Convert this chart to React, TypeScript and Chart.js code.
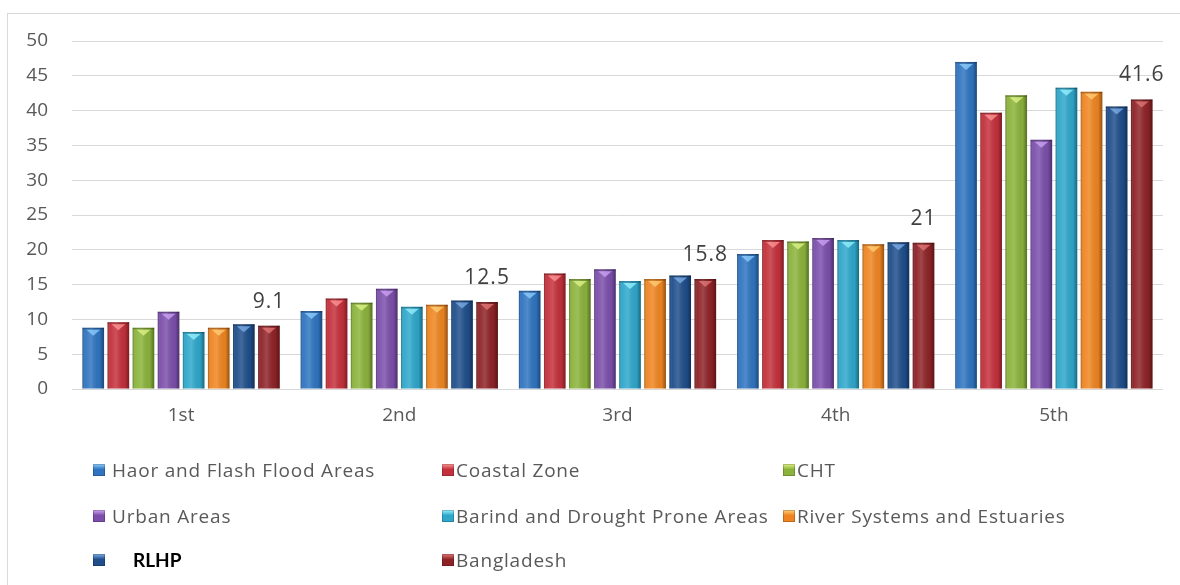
import React, { useEffect, useRef } from 'react';
import { Chart, registerables } from 'chart.js';

Chart.register(...registerables);

// Quintile groups along the x axis
const categories = ['1st', '2nd', '3rd', '4th', '5th'];

// Share per quintile for each area
const haorFlashFlood = [8.8, 11.2, 14.1, 19.4, 47.0];
const coastalZone = [9.6, 13.0, 16.6, 21.4, 39.7];
const cht = [8.8, 12.4, 15.8, 21.2, 42.2];
const urbanAreas = [11.1, 14.4, 17.2, 21.7, 35.8];
const barindDrought = [8.2, 11.8, 15.5, 21.4, 43.3];
const riverSystems = [8.8, 12.1, 15.8, 20.8, 42.7];
const rlhp = [9.3, 12.7, 16.3, 21.1, 40.6];
const bangladesh = [9.1, 12.5, 15.8, 21, 41.6];

const yTicks = [0, 5, 10, 15, 20, 25, 30, 35, 40, 45, 50];

const seriesNames = [
  'Haor and Flash Flood Areas',
  'Coastal Zone',
  'CHT',
  'Urban Areas',
  'Barind and Drought Prone Areas',
  'River Systems and Estuaries',
  'RLHP',
  'Bangladesh',
];
const seriesValues = [haorFlashFlood, coastalZone, cht, urbanAreas, barindDrought, riverSystems, rlhp, bangladesh];

const seriesColors = ['#2f74c0', '#c4303b', '#8bb33b', '#7b4fab', '#2ea7cb', '#ef8521', '#1f4e8b', '#8e2327'];
const seriesTips = ['#8fd0ff', '#ff9a9a', '#e2f58a', '#cfa6f5', '#9af3ff', '#ffd27a', '#7fb0ea', '#e67878'];

// index of the series whose values are printed above the bars
const labelledSeries = 7;

// legend grid: [series index, box left, text left, row centre y]
const legendCells: [number, number, number, number][] = [
  [0, 93, 112, 470],
  [1, 442, 456, 470],
  [2, 783, 797, 470],
  [3, 93, 112, 516],
  [4, 442, 456, 516],
  [5, 783, 797, 516],
  [6, 93, 133, 560],
  [7, 442, 456, 560],
];

const FONT = '"Open Sans", "DejaVu Sans", sans-serif';

// Gives each bar a rounded, glossy look with a small bevel at the top
const bevelPlugin = {
  id: 'bevel',
  afterDatasetsDraw(chart: any) {
    const ctx = chart.ctx as CanvasRenderingContext2D;
    chart.data.datasets.forEach((_ds: any, i: number) => {
      const meta = chart.getDatasetMeta(i);
      meta.data.forEach((el: any) => {
        const { x, y, base, width } = el.getProps(['x', 'y', 'base', 'width'], true);
        const l = x - width / 2;
        const r = x + width / 2;
        ctx.save();
        const g = ctx.createLinearGradient(l, 0, r, 0);
        g.addColorStop(0, 'rgba(0,0,0,0.34)');
        g.addColorStop(0.12, 'rgba(255,255,255,0.04)');
        g.addColorStop(0.4, 'rgba(255,255,255,0.16)');
        g.addColorStop(0.8, 'rgba(0,0,0,0.04)');
        g.addColorStop(1, 'rgba(0,0,0,0.38)');
        ctx.fillStyle = g;
        ctx.fillRect(l, y, width, base - y);
        ctx.fillStyle = 'rgba(0,0,0,0.25)';
        ctx.fillRect(l, y, width, 1.5);
        ctx.globalAlpha = 0.75;
        ctx.fillStyle = seriesTips[i];
        ctx.beginPath();
        ctx.moveTo(l + width * 0.18, y + 2);
        ctx.lineTo(r - width * 0.18, y + 2);
        ctx.lineTo(x, y + 8);
        ctx.closePath();
        ctx.fill();
        ctx.restore();
      });
    });
  },
};

// Prints the values of one series above its bars
const valueLabelPlugin = {
  id: 'valueLabels',
  afterDatasetsDraw(chart: any) {
    const ctx = chart.ctx as any;
    const meta = chart.getDatasetMeta(labelledSeries);
    const values = chart.data.datasets[labelledSeries].data as number[];
    ctx.save();
    ctx.font = `21px ${FONT}`;
    ctx.letterSpacing = '1px';
    ctx.fillStyle = '#404040';
    ctx.textAlign = 'center';
    ctx.textBaseline = 'alphabetic';
    meta.data.forEach((el: any, j: number) => {
      const { x, y } = el.getProps(['x', 'y'], true);
      ctx.fillText(String(values[j]), x, y - 18);
    });
    ctx.restore();
  },
};

export default function App() {
  const canvasRef = useRef<HTMLCanvasElement | null>(null);

  useEffect(() => {
    if (!canvasRef.current) return;
    const chart = new Chart(canvasRef.current, {
      type: 'bar',
      data: {
        labels: categories,
        datasets: seriesNames.map((name, i) => ({
          label: name,
          data: seriesValues[i],
          backgroundColor: seriesColors[i],
          borderWidth: 0,
          categoryPercentage: 0.92,
          barPercentage: 0.86,
        })),
      },
      options: {
        responsive: false,
        animation: false,
        devicePixelRatio: 1,
        layout: { padding: { left: 0, right: 17, top: 41, bottom: 0 } },
        plugins: {
          legend: { display: false },
          tooltip: { enabled: false },
          title: { display: false },
        },
        scales: {
          x: {
            grid: { display: false, drawTicks: false },
            border: { display: false },
            ticks: { color: '#595959', font: { family: FONT, size: 19 }, padding: 15 },
            afterFit(scale: any) {
              scale.height = 196;
            },
          },
          y: {
            min: 0,
            max: 50,
            afterBuildTicks(scale: any) {
              scale.ticks = yTicks.map((v) => ({ value: v }));
            },
            grid: { color: '#d9d9d9', lineWidth: 1, drawTicks: false },
            border: { display: false },
            ticks: { color: '#595959', font: { family: FONT, size: 19 }, padding: 24 },
            afterFit(scale: any) {
              scale.width = 72;
            },
          },
        },
      },
      plugins: [bevelPlugin, valueLabelPlugin],
    });
    return () => chart.destroy();
  }, []);

  return (
    <div
      style={{
        position: 'fixed',
        left: 0,
        top: 0,
        width: 1180,
        height: 585,
        background: '#ffffff',
        overflow: 'hidden',
        fontFamily: FONT,
      }}
    >
      <div
        style={{
          position: 'absolute',
          left: 7,
          top: 13,
          width: 1300,
          height: 700,
          borderLeft: '1px solid #d9d9d9',
          borderTop: '1px solid #d9d9d9',
        }}
      />
      <canvas
        ref={canvasRef}
        width={1180}
        height={585}
        style={{ position: 'absolute', left: 0, top: 0, width: 1180, height: 585, display: 'block' }}
      />
      {legendCells.map(([idx, boxX, textX, cy]) => (
        <React.Fragment key={idx}>
          <div
            style={{
              position: 'absolute',
              left: boxX,
              top: cy - 6,
              width: 12,
              height: 12,
              background: `linear-gradient(180deg, ${seriesTips[idx]} 0%, ${seriesColors[idx]} 45%, ${seriesColors[idx]} 100%)`,
              boxShadow: 'inset 0 0 0 1px rgba(0,0,0,0.2)',
            }}
          />
          <div
            style={{
              position: 'absolute',
              left: textX,
              top: cy - 14,
              height: 28,
              lineHeight: '28px',
              whiteSpace: 'nowrap',
              fontSize: 19,
              letterSpacing: idx === 6 ? 0 : 0.8,
              fontWeight: idx === 6 ? 700 : 400,
              color: idx === 6 ? '#000000' : '#595959',
              fontFamily: idx === 6 ? 'Lato, "Liberation Sans", sans-serif' : FONT,
            }}
          >
            {seriesNames[idx]}
          </div>
        </React.Fragment>
      ))}
    </div>
  );
}
